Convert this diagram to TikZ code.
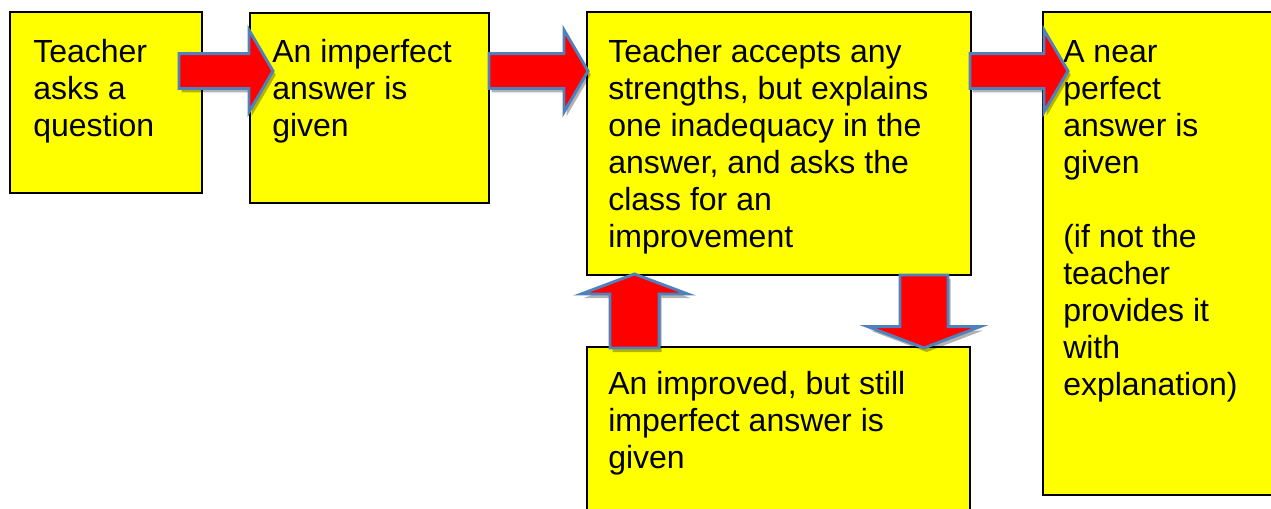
\documentclass[tikz,border=0pt]{standalone}
\usepackage{fontspec}
\setmainfont{Liberation Sans}
\usepackage{xcolor}
\definecolor{noteYellow}{HTML}{FFFF00}
\definecolor{arrowRed}{HTML}{FF0000}
\definecolor{arrowEdge}{HTML}{4F81BD}
\usepackage{tikz}
\usetikzlibrary{positioning,calc,fit,shadows}
\tikzset{%
  stageBox/.style={%
    rectangle,
    draw=black,
    fill=noteYellow,
    line width=1.5pt,
    inner sep=0pt
  },
  stageText/.style={%
    anchor=base west,
    inner sep=0pt,
    font=\fontsize{24}{27.75}\selectfont
  },
  fatArrow/.style={%
    fill=arrowRed,
    draw=arrowEdge,
    line width=2.2pt,
    line join=miter,
    drop shadow={fill=black,opacity=0.3,shadow xshift=2pt,shadow yshift=-3pt}
  }
}
% lines of a stage, baseline on the first line
\newcommand{\stageLines}[1]{\begin{tabular}[t]{@{}l@{}}#1\end{tabular}}
% block arrow: from, to, shaft half width, head half width, head length
\newcommand{\blockArrow}[5]{%
  \path ($(#2)!#5!(#1)$) coordinate (headBase);
  \draw[fatArrow] ($(#1)!#3!90:(#2)$) -- ($(headBase)!#3!-90:(#1)$)
    -- ($(headBase)!#4!-90:(#1)$) -- (#2) -- ($(headBase)!#4!90:(#1)$)
    -- ($(headBase)!#3!90:(#1)$) -- ($(#1)!#3!-90:(#2)$) -- cycle;
}

\begin{document}
\begin{tikzpicture}[x=0.75pt,y=-0.75pt]
  \useasboundingbox (0,0) rectangle (1271,508);
  \clip (0,0) rectangle (1271,508);

  % the five stages
  \node[stageBox, fit={(10,12) (202,193)}] (ask) {};
  \node[stageBox, fit={(250,13) (489,203)}] (imperfect) {};
  \node[stageBox, fit={(587,12) (971,275)}] (feedback) {};
  \node[stageBox, fit={(587,347) (970,530)}] (improved) {};
  \node[stageBox, fit={(1043,12) (1290,495)}] (perfect) {};

  \node[stageText] (askText) at (33,62) {\stageLines{Teacher\\asks a\\question}};
  \node[stageText] (imperfectText) at (272,62) {\stageLines{An imperfect\\answer is\\given}};
  \node[stageText] (feedbackText) at (608,62) {\stageLines{Teacher accepts any\\strengths, but explains\\one inadequacy in the\\answer, and asks the\\class for an\\improvement}};
  \node[stageText] (improvedText) at (608,394) {\stageLines{An improved, but still\\imperfect answer is\\given}};
  \node[stageText] (perfectText) at (1063,62) {\stageLines{A near\\perfect\\answer is\\given\\\\(if not the\\teacher\\provides it\\with\\explanation)}};

  % arrow ends
  \coordinate (askOut) at (179,71);
  \coordinate (imperfectIn) at (273,71);
  \coordinate (imperfectOut) at (489,71);
  \coordinate (feedbackIn) at (588,71);
  \coordinate (feedbackOut) at (970,71);
  \coordinate (perfectIn) at (1068,71);
  \coordinate (improvedOut) at (634.5,348);
  \coordinate (feedbackUp) at (634.5,274);
  \coordinate (feedbackDown) at (924,275);
  \coordinate (improvedIn) at (924,348);

  \blockArrow{askOut}{imperfectIn}{13.1pt}{30.75pt}{18pt}
  \blockArrow{imperfectOut}{feedbackIn}{13.1pt}{30.75pt}{18pt}
  \blockArrow{feedbackOut}{perfectIn}{13.1pt}{30.75pt}{18pt}
  \blockArrow{improvedOut}{feedbackUp}{18.4pt}{40pt}{15pt}
  \blockArrow{feedbackDown}{improvedIn}{18pt}{42pt}{16pt}
\end{tikzpicture}
\end{document}
